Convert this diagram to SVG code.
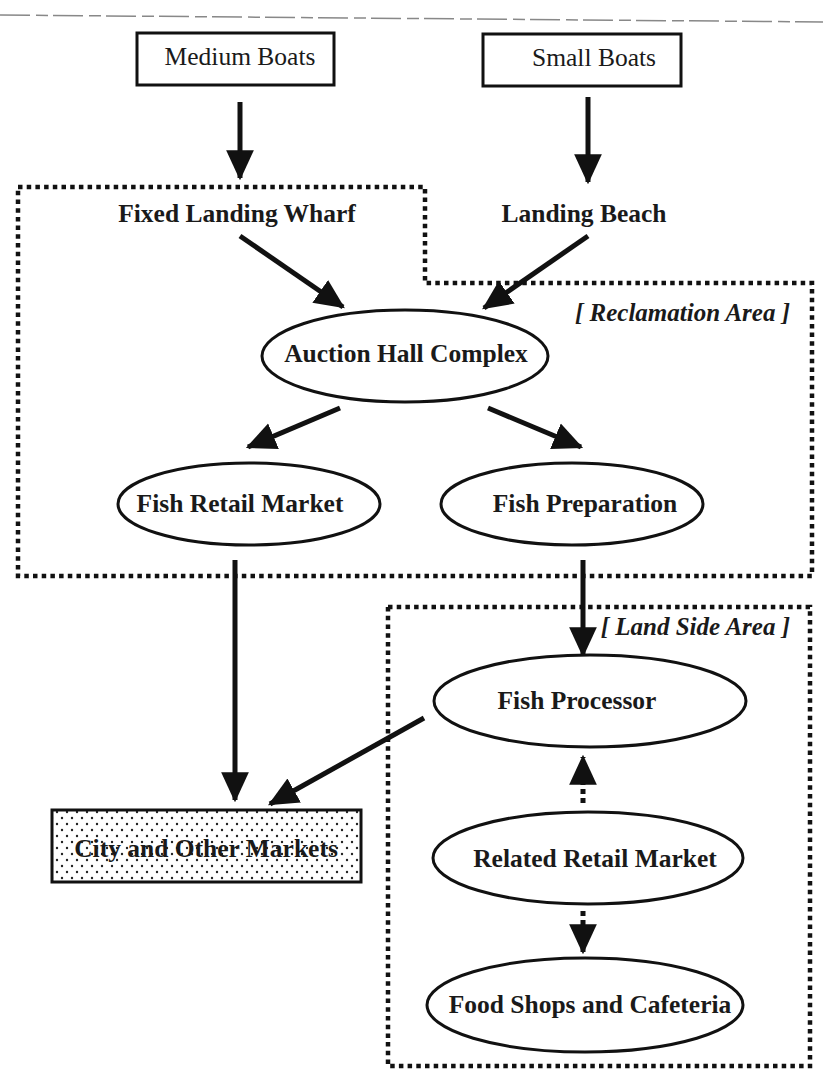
<svg xmlns="http://www.w3.org/2000/svg" width="823" height="1074" viewBox="0 0 823 1074">
<style>
.bg{fill:#fff}
.box{fill:#fff;stroke:#111;stroke-width:3}
.ell{fill:#fff;stroke:#111;stroke-width:3}
.lbl{font-family:"Liberation Serif","Times New Roman",serif;font-size:25.5px;font-weight:bold;fill:#1a1a1a;text-anchor:middle}
.lblr{font-family:"Liberation Serif","Times New Roman",serif;font-size:25.5px;fill:#1a1a1a;text-anchor:middle}
.area{font-family:"Liberation Serif","Times New Roman",serif;font-size:25px;font-weight:bold;font-style:italic;fill:#1a1a1a;text-anchor:end}
.zone{fill:none;stroke:#111;stroke-width:4.5;stroke-dasharray:4.5 4.2}
.arr{fill:none;stroke:#111;stroke-width:5;marker-end:url(#ah)}
.darr{fill:none;stroke:#111;stroke-width:5;stroke-dasharray:5 4;marker-end:url(#ah)}
.top{fill:none;stroke:#888;stroke-width:1.5;stroke-dasharray:30 6 12 5}
</style>
<defs>
<marker id="ah" markerUnits="userSpaceOnUse" markerWidth="30" markerHeight="30" viewBox="0 0 26 26" refX="24" refY="13" orient="auto">
<path d="M0,1 L26,13 L0,25 Z" fill="#111"/>
</marker>
<pattern id="stip" patternUnits="userSpaceOnUse" width="10" height="12">
<rect width="10" height="12" fill="#fff"/>
<circle cx="2" cy="2" r="1.2" fill="#222"/>
<circle cx="7" cy="8" r="1.2" fill="#222"/>
</pattern>
</defs>
<rect class="bg" x="0" y="0" width="823" height="1074"/>
<line class="top" x1="0" y1="15" x2="823" y2="22"/>

<g id="zones">
<path class="zone" d="M18,187 L425,187 L425,283 L812,283 L812,576 L18,576 Z"/>
<path class="zone" d="M388,607 L810,607 L810,1066 L388,1066 Z"/>
<text class="area" x="790" y="321">[ Reclamation Area ]</text>
<text class="area" x="790" y="635">[ Land Side Area ]</text>
</g>

<g id="connectors">
<line class="arr" x1="240" y1="102" x2="240" y2="178"/>
<line class="arr" x1="588" y1="97" x2="588" y2="182"/>
<line class="arr" x1="240" y1="236" x2="343" y2="307"/>
<line class="arr" x1="588" y1="236" x2="484" y2="308"/>
<line class="arr" x1="340" y1="408" x2="248" y2="447"/>
<line class="arr" x1="488" y1="408" x2="581" y2="447"/>
<line class="arr" x1="235" y1="560" x2="235" y2="800"/>
<line class="arr" x1="583" y1="560" x2="583" y2="655"/>
<line class="arr" x1="424" y1="718" x2="270" y2="804"/>
<line class="darr" x1="583" y1="803" x2="583" y2="757"/>
<line class="darr" x1="583" y1="911" x2="583" y2="952"/>
</g>

<g id="medium-boats">
<rect class="box" x="137" y="33" width="197" height="52"/>
<text class="lblr" x="240" y="65">Medium Boats</text>
</g>
<g id="small-boats">
<rect class="box" x="483" y="34" width="198" height="52"/>
<text class="lblr" x="594" y="66">Small Boats</text>
</g>
<g id="fixed-landing-wharf">
<text class="lbl" x="237" y="222">Fixed Landing Wharf</text>
</g>
<g id="landing-beach">
<text class="lbl" x="584" y="222">Landing Beach</text>
</g>
<g id="auction-hall">
<ellipse class="ell" cx="405" cy="356" rx="143" ry="46"/>
<text class="lbl" x="406" y="362">Auction Hall Complex</text>
</g>
<g id="fish-retail-market">
<ellipse class="ell" cx="249" cy="504" rx="131" ry="41"/>
<text class="lbl" x="240" y="512">Fish Retail Market</text>
</g>
<g id="fish-preparation">
<ellipse class="ell" cx="572" cy="504" rx="131" ry="41"/>
<text class="lbl" x="585" y="512">Fish Preparation</text>
</g>
<g id="fish-processor">
<ellipse class="ell" cx="590" cy="701" rx="156" ry="46"/>
<text class="lbl" x="577" y="709">Fish Processor</text>
</g>
<g id="city-markets">
<rect x="52" y="810" width="309" height="72" fill="url(#stip)" stroke="#111" stroke-width="3"/>
<text class="lbl" x="206" y="857">City and Other Markets</text>
</g>
<g id="related-retail-market">
<ellipse class="ell" cx="588" cy="858" rx="155" ry="46"/>
<text class="lbl" x="595" y="867">Related Retail Market</text>
</g>
<g id="food-shops">
<ellipse class="ell" cx="585" cy="1005" rx="158" ry="47"/>
<text class="lbl" x="590" y="1013">Food Shops and Cafeteria</text>
</g>
</svg>
